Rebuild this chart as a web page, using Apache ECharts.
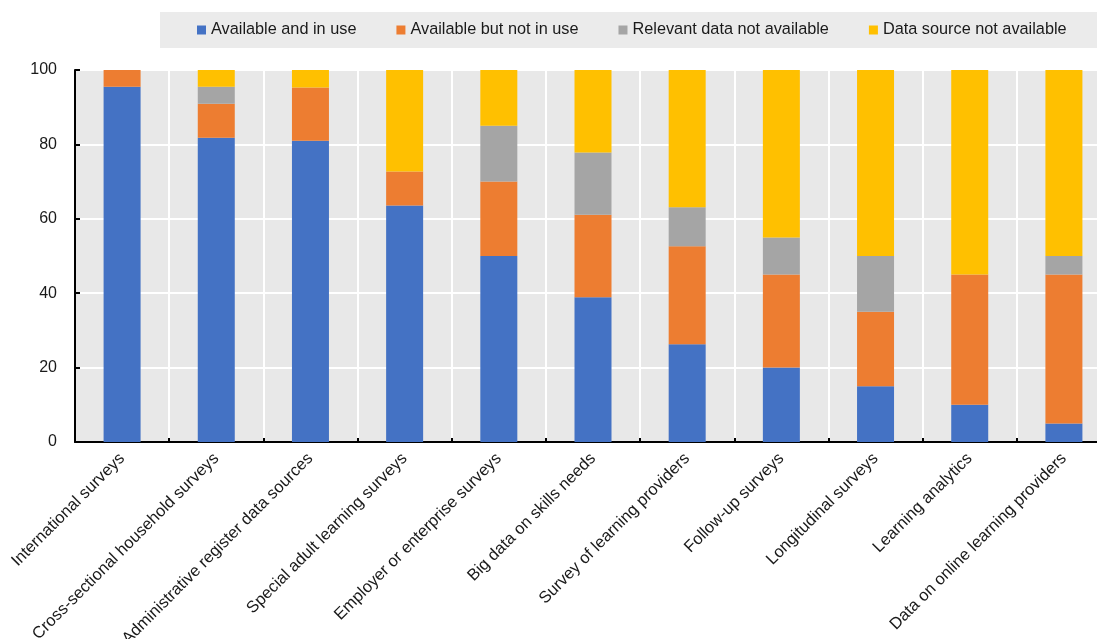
<!DOCTYPE html>
<html>
<head>
<meta charset="utf-8">
<script src="https://cdn.jsdelivr.net/npm/echarts@6/dist/echarts.min.js"></script>
<style>html,body{margin:0;padding:0;background:#fff}#c{width:1097px;height:639px}</style>
</head>
<body>
<div id="c"></div>
<script>
const categories = ["International surveys","Cross-sectional household surveys","Administrative register data sources","Special adult learning surveys","Employer or enterprise surveys","Big data on skills needs","Survey of learning providers","Follow-up surveys","Longitudinal surveys","Learning analytics","Data on online learning providers"];
const seriesNames = ["Available and in use","Available but not in use","Relevant data not available","Data source not available"];
const availableInUse    = [95.5, 81.8, 81.0, 63.6, 50, 38.9, 26.3, 20, 15, 10, 5];
const availableNotInUse = [4.5, 9.1, 14.3, 9.1, 20, 22.2, 26.3, 25, 20, 35, 40];
const relevantNotAvail  = [0, 4.6, 0, 0, 15, 16.7, 10.5, 10, 15, 0, 5];
const sourceNotAvail    = [0, 4.5, 4.7, 27.3, 15, 22.2, 36.9, 45, 50, 55, 50];
const yTicks = [0, 20, 40, 60, 80, 100];

const colors = ["#4472C4","#ED7D31","#A5A5A5","#FFC000"];
const values = [availableInUse, availableNotInUse, relevantNotAvail, sourceNotAvail];

const chart = echarts.init(document.getElementById('c'), null, {renderer:'canvas'});
chart.setOption({
  animation:false,
  textStyle:{fontFamily:'Liberation Sans, Arial, sans-serif'},
  graphic:[{type:'rect', left:160, top:12, z:-1, shape:{width:937, height:36}, style:{fill:'#ebebeb'}}],
  legend:{
    left:197, top:22, padding:0, itemGap:40, itemWidth:9, itemHeight:9, icon:'rect',
    textStyle:{fontSize:16.3, color:'#1a1a1a', fontFamily:'Liberation Sans, Arial, sans-serif'},
    data:seriesNames
  },
  grid:{left:75, width:1036, top:70, height:372, show:true, backgroundColor:'#e8e8e8', borderWidth:0,
        containLabel:false, outerBoundsMode:'none'},
  xAxis:{
    type:'category', data:categories,
    axisLine:{lineStyle:{color:'#000', width:2}},
    axisTick:{show:true, inside:true, length:4, alignWithLabel:false, lineStyle:{color:'#000', width:2}},
    splitLine:{show:true, lineStyle:{color:'#ffffff', width:2}},
    axisLabel:{rotate:45, margin:14, fontSize:16.5, color:'#1a1a1a', interval:0}
  },
  yAxis:{
    type:'value', min:yTicks[0], max:yTicks[yTicks.length-1], interval:20,
    axisLine:{show:true, lineStyle:{color:'#000', width:2}},
    axisTick:{show:true, inside:true, length:5, lineStyle:{color:'#000', width:2}},
    splitLine:{show:true, lineStyle:{color:'#ffffff', width:2}},
    axisLabel:{fontSize:16, color:'#1a1a1a', margin:18}
  },
  series: seriesNames.map((n,i)=>({
    name:n, type:'bar', stack:'total', barWidth:37,
    itemStyle:{color:colors[i]},
    data:values[i]
  }))
});
</script>
</body>
</html>
